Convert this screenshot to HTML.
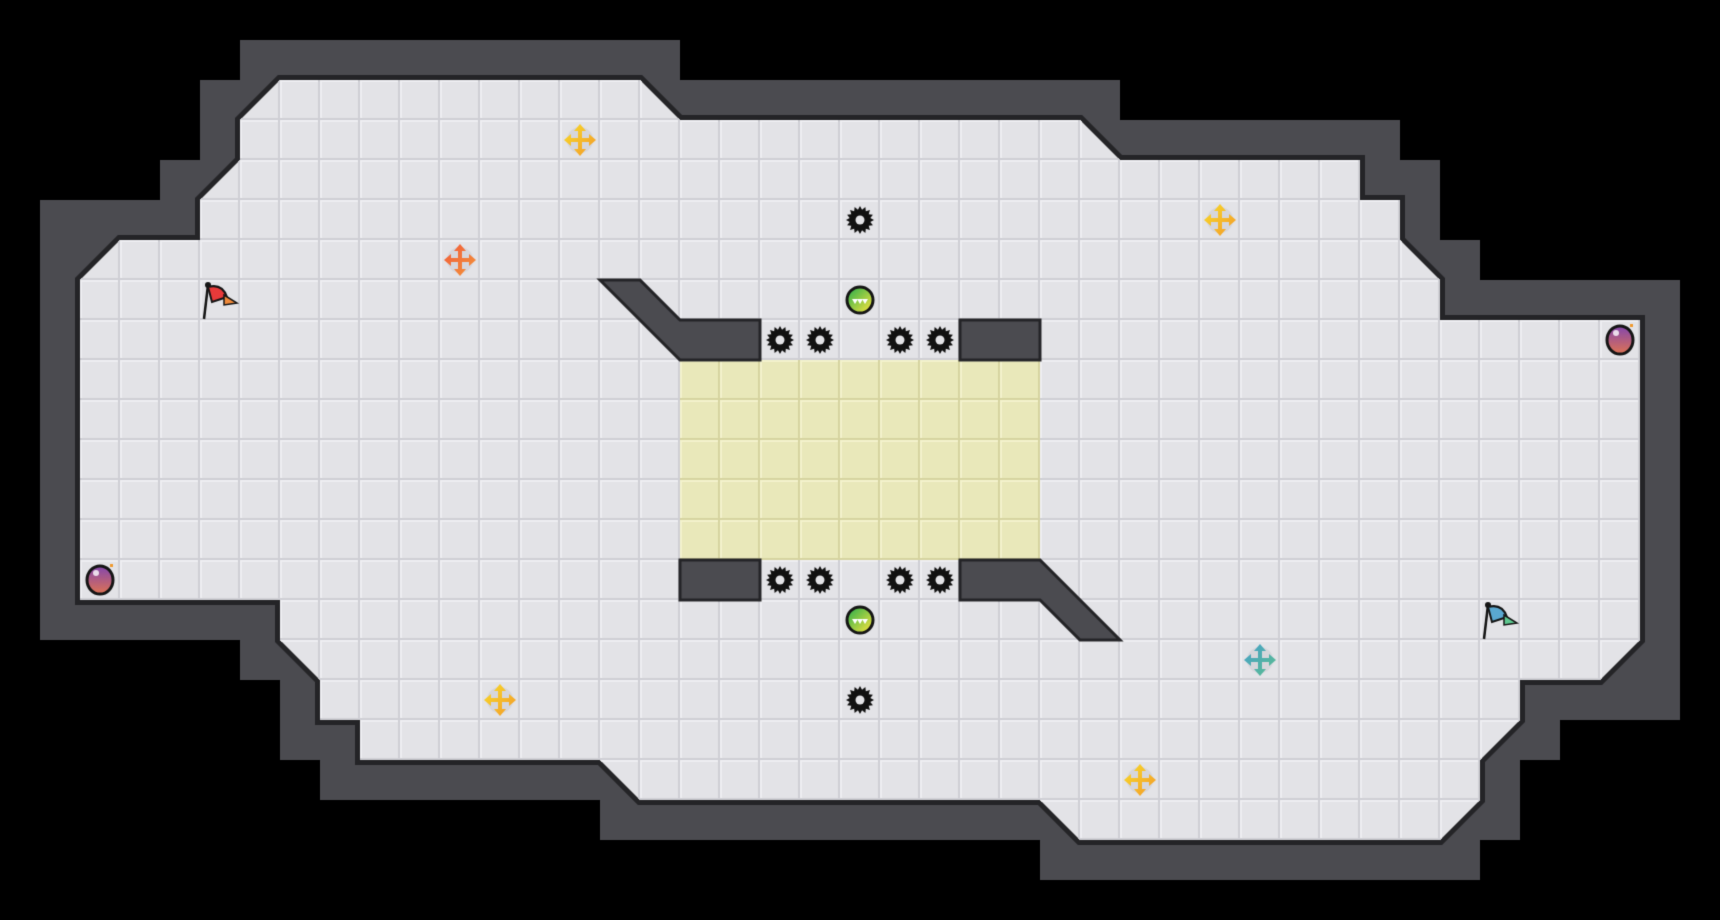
<!DOCTYPE html>
<html><head><meta charset="utf-8"><style>
html,body{margin:0;padding:0;background:#000;width:1720px;height:920px;overflow:hidden}
canvas{display:block}
</style></head><body>
<canvas id="c" width="1720" height="920"></canvas>
<script>
const S=40;
const c=document.getElementById('c');const ctx=c.getContext('2d');
ctx.fillStyle='#000';ctx.fillRect(0,0,1720,920);
const P=[[7,2],[16,2],[17,3],[27,3],[28,4],[34,4],[34,5],[35,5],[35,6],[36,7],[36,8],[41,8],[41,16],[40,17],[38,17],[38,18],[37,19],[37,20],[36,21],[27,21],[26,20],[16,20],[15,19],[9,19],[9,18],[8,18],[8,17],[7,16],[7,15],[2,15],[2,7],[3,6],[5,6],[5,5],[6,4],[6,3]];
function inside(x,y){let r=false;for(let i=0,j=P.length-1;i<P.length;j=i++){const xi=P[i][0],yi=P[i][1],xj=P[j][0],yj=P[j][1];if(((yi>y)!=(yj>y))&&(x<(xj-xi)*(y-yi)/(yj-yi)+xi))r=!r;}return r;}
const full={},part={};
for(let cx=0;cx<43;cx++)for(let cy=0;cy<23;cy++){let n=0;for(const[dx,dy]of[[.2,.2],[.8,.2],[.2,.8],[.8,.8]])if(inside(cx+dx,cy+dy))n++;if(n==4)full[cx+','+cy]=1;else if(n>0)part[cx+','+cy]=1;}
part['1,5']=1;part['41,17']=1;
ctx.fillStyle='#4b4b50';
for(let cx=0;cx<43;cx++)for(let cy=0;cy<23;cy++){let w=part[cx+','+cy];for(let dx=-1;dx<=1&&!w;dx++)for(let dy=-1;dy<=1;dy++)if(full[(cx+dx)+','+(cy+dy)]){w=1;break;}if(w)ctx.fillRect(cx*S,cy*S,S,S);}
function poly(pts){ctx.beginPath();pts.forEach((p,i)=>i?ctx.lineTo(p[0]*S,p[1]*S):ctx.moveTo(p[0]*S,p[1]*S));ctx.closePath();}
poly(P);ctx.strokeStyle='#242427';ctx.lineWidth=10;ctx.lineJoin='miter';ctx.stroke();
ctx.save();poly(P);ctx.clip();
for(let cx=0;cx<43;cx++)for(let cy=0;cy<23;cy++){
 const y=cx>=17&&cx<=25&&cy>=9&&cy<=13;
 const x0=cx*S,y0=cy*S;
 ctx.fillStyle=y?'#e9e8ba':'#e3e3e7';ctx.fillRect(x0,y0,S,S);
 ctx.fillStyle=y?'#f3f2cc':'#eeeef1';ctx.fillRect(x0,y0,S,2);ctx.fillRect(x0,y0,2,S);
 ctx.fillStyle=y?'#d6d4a0':'#cfcfd5';ctx.fillRect(x0,y0+S-2,S,2);ctx.fillRect(x0+S-2,y0,2,S);
}
ctx.restore();
const walls=[[[15,7],[16,7],[17,8],[19,8],[19,9],[17,9]],[[24,8],[26,8],[26,9],[24,9]],[[17,14],[19,14],[19,15],[17,15]],[[24,14],[26,14],[28,16],[27,16],[26,15],[24,15]]];
walls.forEach(w=>{poly(w);ctx.fillStyle='#4b4b50';ctx.fill();ctx.strokeStyle='#242427';ctx.lineWidth=3;ctx.stroke();});
function cen(cx,cy){return[cx*S+20,cy*S+20];}
function gear(cx,cy){const[x,y]=cen(cx,cy);ctx.beginPath();const n=16;for(let i=0;i<n*2;i++){const a=i*Math.PI/n;const r=i%2?10.5:14;ctx.lineTo(x+r*Math.cos(a),y+r*Math.sin(a));}ctx.closePath();ctx.fillStyle='#111';ctx.fill();ctx.beginPath();ctx.arc(x,y,4.5,0,7);ctx.fillStyle='#e3e3e7';ctx.fill();}
[[21,5],[19,8],[20,8],[22,8],[23,8],[19,14],[20,14],[22,14],[23,14],[21,17]].forEach(g=>gear(...g));
function ball(cx,cy){const[x,y]=cen(cx,cy);const g=ctx.createLinearGradient(x-10,y-10,x+10,y+10);g.addColorStop(0,'#3cb44a');g.addColorStop(1,'#e8e040');ctx.beginPath();ctx.arc(x,y,13,0,7);ctx.fillStyle=g;ctx.fill();ctx.lineWidth=3;ctx.strokeStyle='#151515';ctx.stroke();ctx.fillStyle='#fff';for(let i=-1;i<=1;i++){ctx.beginPath();ctx.moveTo(x+i*5-3,y-1);ctx.lineTo(x+i*5+3,y-1);ctx.lineTo(x+i*5,y+4);ctx.fill();}}
ball(21,7);ball(21,15);
function cross(cx,cy,c1,c2){const[x,y]=cen(cx,cy);ctx.beginPath();ctx.arc(x,y,13,0,7);ctx.fillStyle='rgba(205,205,212,0.6)';ctx.fill();const g=ctx.createLinearGradient(x-10,y-10,x+10,y+10);g.addColorStop(0,c1);g.addColorStop(1,c2);ctx.fillStyle=g;ctx.fillRect(x-10,y-2,20,4);ctx.fillRect(x-2,y-10,4,20);[[0,-1],[0,1],[-1,0],[1,0]].forEach(([dx,dy])=>{ctx.beginPath();const tx=x+dx*16,ty=y+dy*16;const bx=x+dx*9,by=y+dy*9;ctx.moveTo(tx,ty);ctx.lineTo(bx+dy*6,by+dx*6);ctx.lineTo(bx-dy*6,by-dx*6);ctx.closePath();ctx.fill();});}
cross(14,3,'#f7d02a','#f4a52a');cross(30,5,'#f7d02a','#f4a52a');cross(12,17,'#f7d02a','#f4a52a');cross(28,19,'#f7d02a','#f4a52a');
cross(11,6,'#f2653a','#f38a3a');cross(31,16,'#4aa6c0','#58b89a');
function flag(cx,cy,c1,c2){const[x,y]=cen(cx,cy);ctx.strokeStyle='#151515';ctx.lineWidth=2.5;ctx.beginPath();ctx.moveTo(x-16,y+19);ctx.lineTo(x-12,y-15);ctx.stroke();ctx.beginPath();ctx.arc(x-12,y-15,3,0,7);ctx.fillStyle='#151515';ctx.fill();ctx.beginPath();ctx.moveTo(x-12,y-13);ctx.quadraticCurveTo(x+2,y-17,x+7,y-3);ctx.lineTo(x-8,y+2);ctx.closePath();ctx.fillStyle=c1;ctx.fill();ctx.lineWidth=2;ctx.stroke();ctx.beginPath();ctx.moveTo(x+4,y-5);ctx.lineTo(x+17,y+3);ctx.lineTo(x+4,y+5);ctx.closePath();ctx.fillStyle=c2;ctx.fill();ctx.lineWidth=1.5;ctx.stroke();}
flag(5,7,'#e83a3a','#f08a3a');flag(37,15,'#5aa8d0','#5ec890');
function bomb(cx,cy){const[x,y]=cen(cx,cy);const g=ctx.createLinearGradient(x,y-12,x,y+12);g.addColorStop(0,'#8a4aa8');g.addColorStop(1,'#d8705a');ctx.beginPath();ctx.ellipse(x,y,13,14,0,0,7);ctx.fillStyle=g;ctx.fill();ctx.lineWidth=3;ctx.strokeStyle='#151515';ctx.stroke();ctx.beginPath();ctx.arc(x-4,y-7,3,0,7);ctx.fillStyle='rgba(255,255,255,0.8)';ctx.fill();ctx.fillStyle='#f09a30';ctx.fillRect(x+10,y-16,3,3);}
bomb(2,14);bomb(40,8);
</script>
</body></html>
